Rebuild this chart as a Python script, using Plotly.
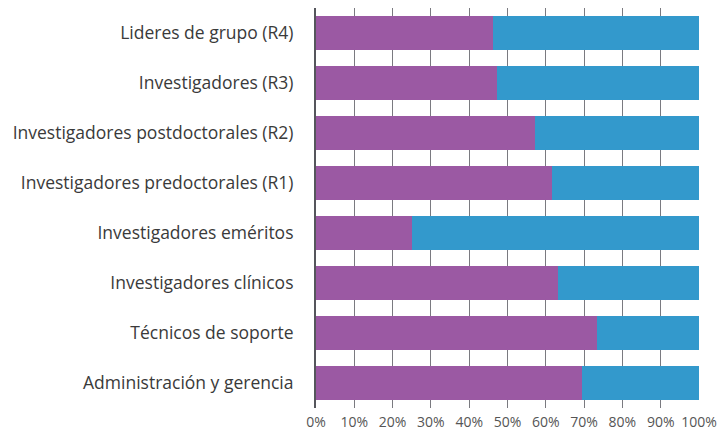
import plotly.graph_objects as go

categories = [
    "Lideres de grupo (R4)",
    "Investigadores (R3)",
    "Investigadores postdoctorales (R2)",
    "Investigadores predoctorales (R1)",
    "Investigadores eméritos",
    "Investigadores clínicos",
    "Técnicos de soporte",
    "Administración y gerencia",
]
mujeres = [46.2, 47.3, 57.2, 61.5, 25.0, 63.1, 73.4, 69.4]
hombres = [100 - v for v in mujeres]
tick_vals = [0, 10, 20, 30, 40, 50, 60, 70, 80, 90, 100]
tick_text = [f"{v}%" for v in tick_vals]

fig = go.Figure()
fig.add_trace(go.Bar(y=categories, x=mujeres, orientation="h", name="Mujeres",
                     marker=dict(color="#9B59A3", line=dict(width=0))))
fig.add_trace(go.Bar(y=categories, x=hombres, orientation="h", name="Hombres",
                     marker=dict(color="#3399CC", line=dict(width=0))))

fig.update_layout(
    barmode="stack",
    bargap=0.32,
    width=718, height=434,
    margin=dict(l=316, r=19, t=8, b=26, autoexpand=False),
    paper_bgcolor="white", plot_bgcolor="white",
    showlegend=False,
    font=dict(family="Open Sans, sans-serif", color="#3a3a3a"),
    xaxis=dict(range=[0, 100], tickvals=tick_vals, ticktext=tick_text,
               showgrid=True, gridcolor="#7a7a80", gridwidth=1,
               zeroline=False, showline=False, automargin=False,
               tickfont=dict(size=14, color="#555555"),
               ticks="outside", ticklen=1, tickcolor="rgba(0,0,0,0)"),
    yaxis=dict(autorange="reversed", showgrid=False, zeroline=False,
               showline=True, linecolor="#55565c", linewidth=2,
               ticks="", ticklabelstandoff=17, automargin=False,
               tickfont=dict(size=17.5, color="#3a3a3a")),
)
fig.update_xaxes(layer="above traces")
fig.write_html(
    "out.html",
    config={"displayModeBar": False},
    post_script="document.body.style.margin='0';document.body.style.overflow='hidden';",
)
